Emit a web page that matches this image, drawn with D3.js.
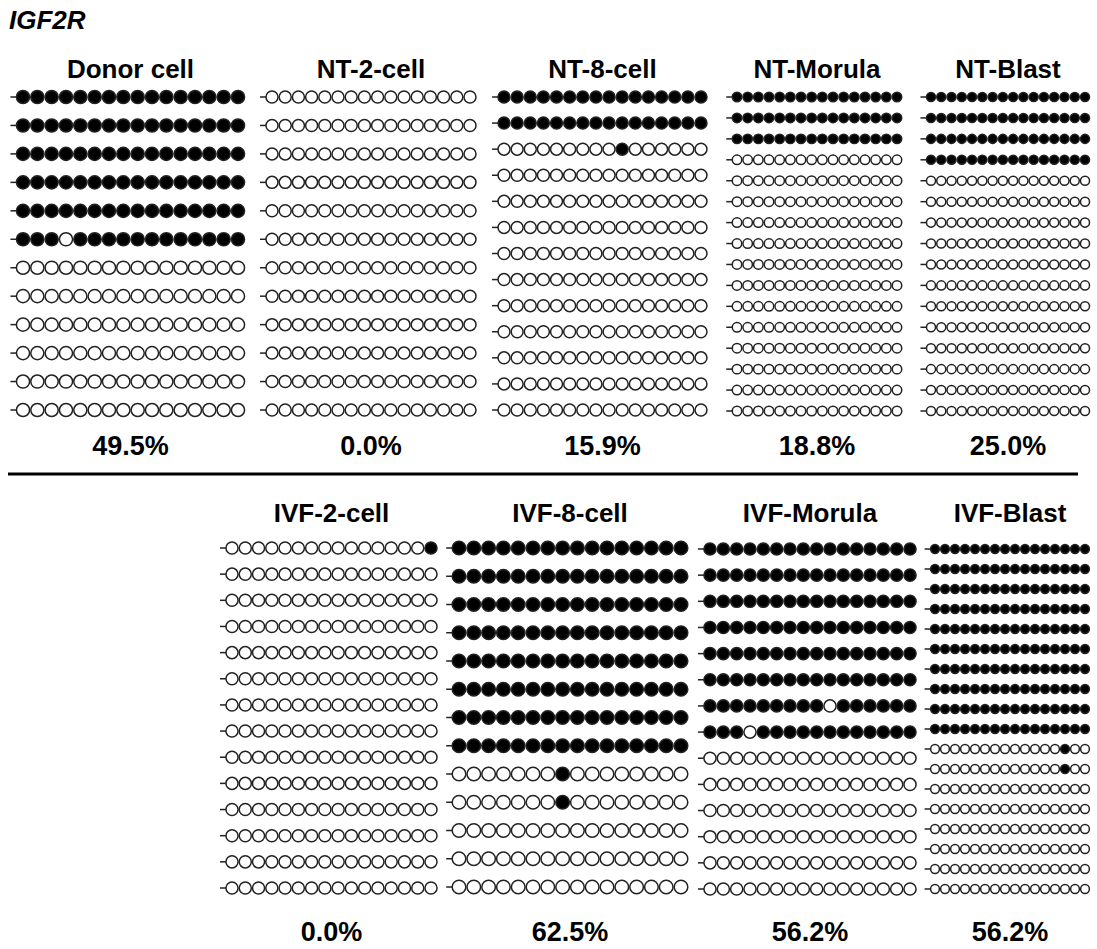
<!DOCTYPE html>
<html>
<head>
<meta charset="utf-8">
<script src="https://cdn.jsdelivr.net/npm/d3@7"></script>
<style>
  body { margin: 0; background: #fff; }
  text { font-family: "Liberation Sans", Arial, sans-serif; font-weight: bold; fill: #000; }
</style>
</head>
<body>
<svg id="chart" width="1097" height="949"></svg>
<script>
// 1 = methylated CpG (filled), 0 = unmethylated (open); 16 CpG sites per clone
const F = "1111111111111111";
const O = "0000000000000000";

const geneName = "IGF2R";

const topNames = ["Donor cell", "NT-2-cell", "NT-8-cell", "NT-Morula", "NT-Blast"];
const topPercents = ["49.5%", "0.0%", "15.9%", "18.8%", "25.0%"];

const bottomNames = ["IVF-2-cell", "IVF-8-cell", "IVF-Morula", "IVF-Blast"];
const bottomPercents = ["0.0%", "62.5%", "56.2%", "56.2%"];

const donorRows = [F, F, F, F, F, "1110111111111111", O, O, O, O, O, O];
const nt2Rows = [O, O, O, O, O, O, O, O, O, O, O, O];
const nt8Rows = [F, F, "0000000001000000", O, O, O, O, O, O, O, O, O, O];
const ntMorulaRows = [F, F, F, O, O, O, O, O, O, O, O, O, O, O, O, O];
const ntBlastRows = [F, F, F, F, O, O, O, O, O, O, O, O, O, O, O, O];

const ivf2Rows = ["0000000000000001", O, O, O, O, O, O, O, O, O, O, O, O, O];
const ivf8Rows = [F, F, F, F, F, F, F, F, "0000000100000000", "0000000100000000", O, O, O];
const ivfMorulaRows = [F, F, F, F, F, F, "1111111110111111", "1110111111111111", O, O, O, O, O, O];
const ivfBlastRows = [F, F, F, F, F, F, F, F, F, F, "0000000000000100", "0000000000000100", O, O, O, O, O, O];

// where each panel sits: first/last circle centre (x), first/last row (y)
const topBoxes = [
  {x0: 23, x1: 238, y0: 97, y1: 410},
  {x0: 272, x1: 470, y0: 97, y1: 410},
  {x0: 504, x1: 701, y0: 97, y1: 410},
  {x0: 737, x1: 897, y0: 97, y1: 411},
  {x0: 931, x1: 1085, y0: 97, y1: 411}
];
const bottomBoxes = [
  {x0: 232, x1: 431, y0: 548, y1: 888},
  {x0: 459, x1: 681, y0: 548, y1: 887},
  {x0: 710, x1: 910, y0: 549, y1: 889},
  {x0: 935, x1: 1085, y0: 549, y1: 889}
];

const topRows = [donorRows, nt2Rows, nt8Rows, ntMorulaRows, ntBlastRows];
const bottomRows = [ivf2Rows, ivf8Rows, ivfMorulaRows, ivfBlastRows];

const svg = d3.select("#chart");

svg.append("text")
  .attr("x", 9)
  .attr("y", 29)
  .style("font-size", "26px")
  .style("font-style", "italic")
  .text(geneName);

function drawPanel(rows, box, name, pct, titleY, pctY) {
  const g = svg.append("g");
  const cx = (box.x0 + box.x1) / 2;

  const xScale = d3.scalePoint()
    .domain(d3.range(16))
    .range([box.x0, box.x1]);
  const yScale = d3.scalePoint()
    .domain(d3.range(rows.length))
    .range([box.y0, box.y1]);

  const step = xScale.step();
  const r = step / 2 - 0.6;

  g.append("text")
    .attr("x", cx)
    .attr("y", titleY)
    .attr("text-anchor", "middle")
    .style("font-size", "26px")
    .text(name);

  const rowG = g.selectAll("g.clone")
    .data(rows)
    .join("g")
    .attr("class", "clone")
    .attr("transform", (d, i) => "translate(0," + yScale(i) + ")");

  // little stem on the left of each clone
  rowG.append("line")
    .attr("x1", box.x0 - r - 6)
    .attr("x2", box.x0 - r)
    .attr("y1", 0)
    .attr("y2", 0)
    .attr("stroke", "#222")
    .attr("stroke-width", 1.5);

  rowG.selectAll("circle")
    .data(d => d.split("").map(Number))
    .join("circle")
    .attr("cx", (d, i) => xScale(i))
    .attr("cy", 0)
    .attr("r", r)
    .attr("fill", d => d ? "#000" : "#fff")
    .attr("stroke", "#222")
    .attr("stroke-width", 1.5);

  g.append("text")
    .attr("x", cx)
    .attr("y", pctY)
    .attr("text-anchor", "middle")
    .style("font-size", "27px")
    .text(pct);
}

topNames.forEach(function(name, i) {
  drawPanel(topRows[i], topBoxes[i], name, topPercents[i], 78, 455);
});

svg.append("line")
  .attr("x1", 8)
  .attr("x2", 1078)
  .attr("y1", 474)
  .attr("y2", 474)
  .attr("stroke", "#000")
  .attr("stroke-width", 3);

bottomNames.forEach(function(name, i) {
  drawPanel(bottomRows[i], bottomBoxes[i], name, bottomPercents[i], 522, 941);
});
</script>
</body>
</html>
